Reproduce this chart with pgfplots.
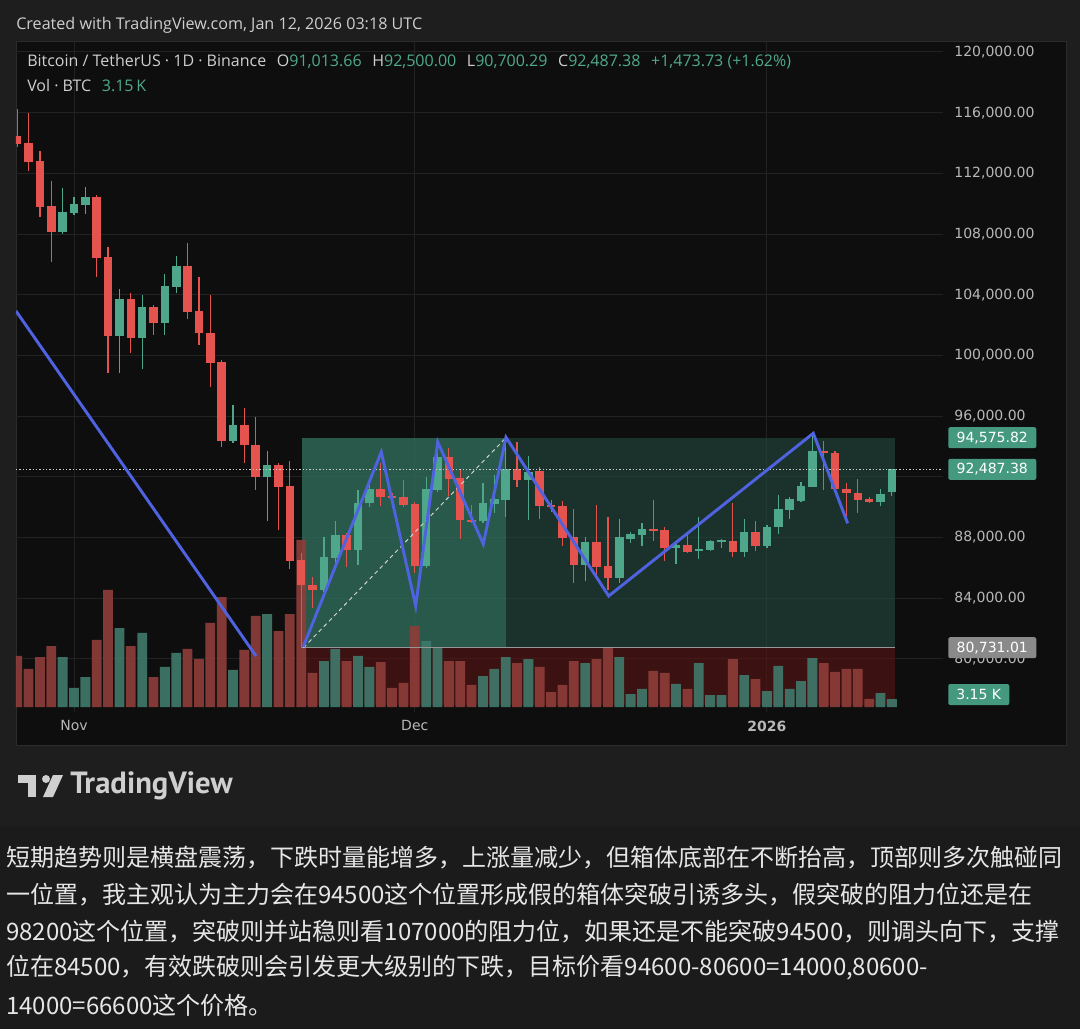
\documentclass[border=0pt]{standalone}
\usepackage{pgfplots}
\pgfplotsset{compat=1.18}
\usepackage{pgfplotstable}
\usepackage{fontspec}
\setmainfont{PT Sans}
\newfontfamily\dv{DejaVu Sans}
\newfontfamily\os{Open Sans}
\newfontfamily\cjk{Noto Sans CJK SC}
\definecolor{outerbg}{HTML}{1E1E1E}
\definecolor{textbg}{HTML}{1B1B1B}
\definecolor{panebg}{HTML}{0E0E0E}
\definecolor{framec}{HTML}{2B2B2B}
\definecolor{gridc}{HTML}{222222}
\definecolor{upc}{HTML}{4FA78B}
\definecolor{downc}{HTML}{E5534F}
\definecolor{volr}{HTML}{8F3D39}
\definecolor{volg}{HTML}{3F7A6B}
\definecolor{boxg}{HTML}{234940}
\definecolor{boxgl}{HTML}{34755F}
\definecolor{redz}{HTML}{5A1414}
\definecolor{bluel}{HTML}{4F63E0}
\definecolor{lblg}{HTML}{45997F}
\definecolor{lblgray}{HTML}{8A8A8A}
\definecolor{txt}{HTML}{CFCFCF}
\definecolor{pricetxt}{HTML}{B8B8B8}
\definecolor{greentxt}{HTML}{4FAA8D}
\definecolor{cntxt}{HTML}{E6E6E6}

\pgfplotstableread{
d o h l c v
-5 114463 116243 113738 113935 20.1
-4 114001 115979 112156 112749 15.0
-3 112815 113474 109123 109782 19.7
-2 109848 111496 106157 108134 24.0
2 110442 110573 105168 106420 26.4
3 106486 107146 98840 101279 46.1
5 103718 104113 100158 101147 24.0
7 103190 103322 101345 102136 11.8
10 105893 107409 102399 102861 22.9
11 102927 105168 100685 101476 18.9
12 101476 103981 97917 99499 33.1
13 99565 99697 93962 94357 43.3
15 95412 96532 92907 94093 22.5
16 94093 95939 91127 91984 35.9
18 92775 92907 88490 91325 29.9
19 91391 93039 85919 86447 36.6
20 86513 86974 80731 84865 65.8
21 84865 85392 83348 84535 13.4
24 88161 88292 86051 87172 18.1
27 91193 92907 90072 90666 17.7
28 90732 90929 90468 90600 7.5
29 90666 91786 90006 90138 9.5
30 90204 90336 85656 86117 31.9
33 93302 93896 90732 91852 18.1
34 91918 92511 87897 89149 18.1
35 89149 90138 88952 89018 8.7
39 92511 94291 91325 91786 17.3
41 92380 92643 89215 90072 15.8
42 90138 90468 89677 90006 5.9
43 90072 90402 87435 87963 8.7
44 88029 89875 84996 86183 18.1
46 87699 90138 85326 86051 18.9
47 86117 89347 84535 85326 23.2
51 88556 90468 87765 88490 14.2
52 88490 88688 86447 87304 13.4
54 87501 88292 86974 87040 7.1
58 87765 90270 86710 87040 18.9
60 88358 89084 87106 87435 11.0
66 93698 94357 91127 93566 17.3
67 93566 93698 91127 91193 13.8
68 91193 91588 89347 90929 15.0
69 90929 91852 89611 90468 15.0
70 90534 90666 90270 90336 3.2
}\down

\pgfplotstableread{
d o h l c v
-1 108134 111035 108002 109453 19.7
0 109387 110442 109255 109980 7.5
1 109914 111101 109321 110442 11.8
4 101279 104377 98840 103718 31.1
6 101147 103981 99103 103190 29.2
8 102136 105366 101345 104575 15.8
9 104509 106552 104113 105893 21.3
14 94357 96730 94225 95412 14.6
17 91984 93698 89084 92775 36.6
22 84535 88029 84403 86710 18.1
23 86644 89084 85919 88161 22.9
25 87172 91127 86183 90270 20.1
26 90270 91720 90006 91193 15.8
31 86117 91984 85985 91193 26.0
32 91127 94423 90995 93302 23.6
36 89084 91588 88952 90270 12.2
37 90204 92116 89611 90534 15.0
38 90468 94588 89347 92511 19.7
40 91786 93368 89149 92314 18.9
45 86183 88029 85128 87699 17.3
48 85326 89215 84996 88029 19.7
49 87897 88358 87633 88227 5.1
50 88161 88952 87435 88556 7.1
53 87304 87633 86249 87501 9.1
55 87106 89347 86579 87238 17.3
56 87172 87831 87106 87765 4.7
57 87699 87897 87304 87831 4.7
59 87040 89215 86710 88358 12.6
61 87435 88820 87304 88688 6.3
62 88688 90797 88227 89875 16.2
63 89809 90666 89215 90534 7.1
64 90402 91654 90336 91391 10.2
65 91325 94700 91325 93698 19.3
71 90336 91193 90072 90864 5.5
72 91013.66 92500 90700.29 92487.38 3.15
}\up

\pgfplotsset{
  tvaxis/.style={at={(12pt,237.75pt)}, anchor=south west, scale only axis,
    width=695.25pt, height=502.5pt, xmin=-5.106, xmax=76.5},
  candle/.style={only marks, mark=*, mark size=0pt, mark options={draw=none, fill=none},
    error bars/.cd, y dir=minus, y explicit, error mark=none,
    error bar style={line width=#1}},
}

\begin{document}
\begin{tikzpicture}
\begin{scope}[x=0.75pt,y=0.75pt]
\useasboundingbox (0,0) rectangle (1080,1029);
\fill[outerbg] (0,0) rectangle (1080,1029);
\fill[textbg] (0,0) rectangle (1080,203);
\fill[panebg] (16,284) rectangle (1066,987);
\draw[framec, line width=0.75pt] (16,284) rectangle (1066,987);
\end{scope}

% Axis A: grid, price scale, position tool zones
\begin{axis}[tvaxis, ymin=76492.8, ymax=120659.2,
  axis line style={draw=none}, major tick length=0pt, scaled y ticks=false,
  ytick={80000,84000,88000,92000,96000,100000,104000,108000,112000,116000,120000},
  yticklabels={{80,000.00},{84,000.00},{88,000.00},{},{96,000.00},{100,000.00},{104,000.00},{108,000.00},{112,000.00},{116,000.00},{120,000.00}},
  yticklabel pos=right,
  yticklabel style={anchor=west, xshift=5pt, text=pricetxt, font=\dv\fontsize{10.5}{12}\selectfont},
  xtick={0,30,61}, xticklabels={Nov,Dec,\bfseries 2026},
  xticklabel style={text=pricetxt, yshift=-3pt, font=\dv\fontsize{10.5}{12}\selectfont},
  grid=major, major grid style={gridc, line width=0.75pt}]
\addplot[fill=redz, fill opacity=0.6, draw=none] coordinates {(20.07,76950) (72.27,76950) (72.27,80731.01) (20.07,80731.01)} -- cycle;
\addplot[fill=boxg, fill opacity=0.6, draw=none] coordinates {(20.07,80731.01) (72.27,80731.01) (72.27,94575.82) (20.07,94575.82)} -- cycle;
\addplot[fill=boxgl, fill opacity=0.6, draw=none] coordinates {(20.07,80731.01) (38.03,80731.01) (38.03,94575.82) (20.07,94575.82)} -- cycle;
\end{axis}

% Axis B: volume
\begin{axis}[tvaxis, ymin=-1.97, ymax=262, hide axis]
\addplot[ybar, bar width=7.35pt, bar shift=0pt, fill=volr, draw=none, fill opacity=0.9] table[x=d,y=v] {\down};
\addplot[ybar, bar width=7.35pt, bar shift=0pt, fill=volg, draw=none, fill opacity=0.9] table[x=d,y=v] {\up};
\end{axis}

% Axis C: candles and drawings
\begin{axis}[tvaxis, ymin=76492.8, ymax=120659.2, hide axis, clip mode=individual]
% entry line
\addplot[color=lblgray!90, line width=0.9pt] coordinates {(20.07,80731.01) (72.27,80731.01)};
% wicks
\addplot[color=downc, candle=0.9pt] table[x=d, y=h, y error expr=\thisrow{h}-\thisrow{l}] {\down};
\addplot[color=upc, candle=0.9pt] table[x=d, y=h, y error expr=\thisrow{h}-\thisrow{l}] {\up};
% bodies
\addplot[color=downc, candle=6.4pt] table[x=d, y=o, y error expr={max(\thisrow{o}-\thisrow{c},120)}] {\down};
\addplot[color=upc, candle=6.4pt] table[x=d, y=c, y error expr={max(\thisrow{c}-\thisrow{o},120)}] {\up};
% current price dotted line
\addplot[color=pricetxt!70, line width=0.75pt, dash pattern=on 0.9pt off 1.6pt] coordinates {(-5.106,92487.38) (76.5,92487.38)};
% dashed measure line
\addplot[color=pricetxt!60, line width=0.7pt, dash pattern=on 3pt off 2.5pt] coordinates {(20.2,80731.01) (38.03,94575.82)};
% blue drawings
\addplot[color=bluel, line width=2.2pt] coordinates {(-5.106,102927) (16.02,80184)};
\addplot[color=bluel, line width=2.2pt, line join=miter] coordinates {(20.18,80797) (27.05,93632) (30.08,83480) (32.02,94291) (36.03,87567) (38.03,94601) (47.07,84140) (65.08,94865) (68.11,88932)};
% price labels
\node[anchor=west, xshift=3.75pt, fill=lblg, text=white, minimum width=66pt, minimum height=15.75pt, inner sep=0pt, rounded corners=1.5pt, font=\dv\fontsize{10.5}{12}\selectfont] at (axis cs:76.5,94575.82) {94,575.82};
\node[anchor=west, xshift=3.75pt, fill=lblg, text=white, minimum width=66pt, minimum height=15.75pt, inner sep=0pt, rounded corners=1.5pt, font=\dv\fontsize{10.5}{12}\selectfont] at (axis cs:76.5,92487.38) {92,487.38};
\node[anchor=west, xshift=3.75pt, fill=lblgray, text=white, minimum width=66pt, minimum height=15.75pt, inner sep=0pt, rounded corners=1.5pt, font=\dv\fontsize{10.5}{12}\selectfont] at (axis cs:76.5,80731.01) {80,731.01};
\end{axis}

\begin{scope}[x=0.75pt,y=0.75pt]
\node[anchor=west, fill=lblg, text=white, minimum width=45.75pt, minimum height=15.75pt, inner sep=0pt, rounded corners=1.5pt, font=\dv\fontsize{10.5}{12}\selectfont] at (948,334.5) {3.15 K};
% header
\node[anchor=west, inner sep=0pt, text=txt, font=\os\fontsize{12.1}{14}\selectfont] at (16,1004) {Created with TradingView.com, Jan 12, 2026 03:18 UTC};
% legend
\node[anchor=west, inner sep=0pt, text=txt, font=\os\fontsize{12}{14}\selectfont] at (27,967) {Bitcoin / TetherUS · 1D · Binance\hspace{8pt}O\textcolor{greentxt}{91,013.66}\hspace{8pt}H\textcolor{greentxt}{92,500.00}\hspace{8pt}L\textcolor{greentxt}{90,700.29}\hspace{8pt}C\textcolor{greentxt}{92,487.38}\hspace{8pt}\textcolor{greentxt}{+1,473.73 (+1.62\%)}};
\node[anchor=west, inner sep=0pt, text=txt, font=\os\fontsize{12}{14}\selectfont] at (27,943) {Vol · BTC\hspace{8pt}\textcolor{greentxt}{3.15\,K}};
% TradingView logo
\fill[txt] (18,254) rectangle (36,246);
\fill[txt] (28,254) rectangle (36,232);
\fill[txt] (46,250) circle (4);
\fill[txt] (53,254) -- (63,254) -- (53,232) -- (43,232) -- cycle;
\node[anchor=west, inner sep=0pt, text=txt, font=\bfseries\fontsize{23}{26}\selectfont] at (70,243) {TradingView};
% Chinese text
\node[anchor=west, inner sep=0pt, text=cntxt, font=\cjk\fontsize{18}{20}\selectfont] at (6,171) {短期趋势则是横盘震荡，下跌时量能增多，上涨量减少，但箱体底部在不断抬高，顶部则多次触碰同};
\node[anchor=west, inner sep=0pt, text=cntxt, font=\cjk\fontsize{18}{20}\selectfont] at (6,134) {一位置，我主观认为主力会在94500这个位置形成假的箱体突破引诱多头，假突破的阻力位还是在};
\node[anchor=west, inner sep=0pt, text=cntxt, font=\cjk\fontsize{18}{20}\selectfont] at (6,97) {98200这个位置，突破则并站稳则看107000的阻力位，如果还是不能突破94500，则调头向下，支撑};
\node[anchor=west, inner sep=0pt, text=cntxt, font=\cjk\fontsize{18}{20}\selectfont] at (6,61) {位在84500，有效跌破则会引发更大级别的下跌，目标价看94600-80600=14000,80600-};
\node[anchor=west, inner sep=0pt, text=cntxt, font=\cjk\fontsize{18}{20}\selectfont] at (6,24) {14000=66600这个价格。};
\end{scope}
\end{tikzpicture}
\end{document}
